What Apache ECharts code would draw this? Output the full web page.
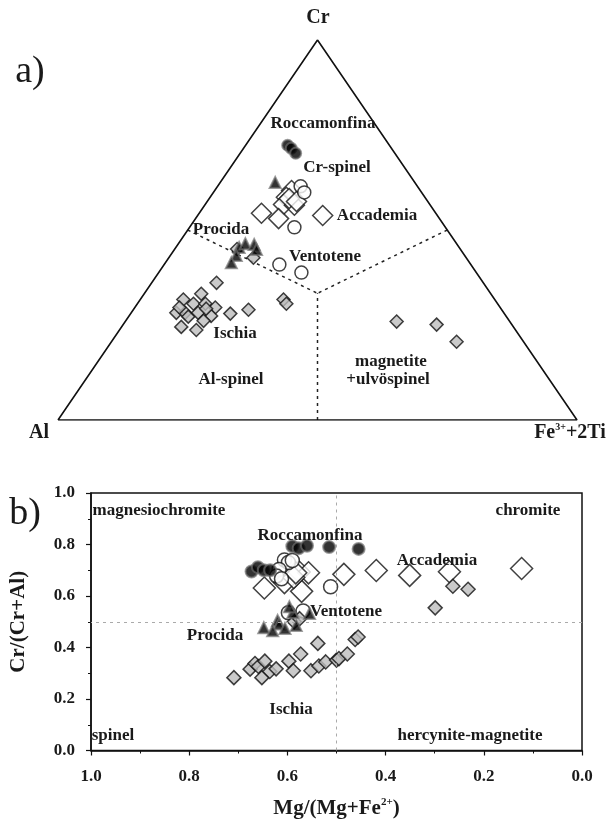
<!DOCTYPE html>
<html>
<head>
<meta charset="utf-8">
<script src="https://cdn.jsdelivr.net/npm/echarts@6/dist/echarts.min.js"></script>
<style>
html,body{margin:0;padding:0;background:#fff;}
#chart{width:614px;height:820px;}
</style>
</head>
<body>
<div id="chart"></div>
<script>
// ---------- Panel a: ternary Cr - Al - (Fe3+ + 2Ti), values as [Cr, Al, Fe3+2Ti] ----------
const ternaryVertices = [[0, 1, 0], [0, 0, 1], [1, 0, 0], [0, 1, 0]];
const fieldCentre = [1/3, 1/3, 1/3];
const fieldEdgeMids = [[0.5, 0.5, 0], [0.5, 0, 0.5], [0, 0.5, 0.5]];

const triRoccamonfina = [[0.723,0.196,0.081],[0.715,0.193,0.092],[0.702,0.191,0.107]];
const triAccademia = [[0.604,0.248,0.148],[0.586,0.267,0.147],[0.567,0.282,0.151],[0.565,0.262,0.173],
  [0.544,0.336,0.120],[0.530,0.310,0.160],[0.538,0.221,0.241],[0.583,0.263,0.154],[0.575,0.253,0.172]];
const triVentotene = [[0.615,0.225,0.160],[0.599,0.226,0.175],[0.507,0.291,0.202],[0.409,0.369,0.222],[0.388,0.337,0.275]];
const triProcida = [[0.625,0.269,0.106],[0.454,0.424,0.122],[0.464,0.407,0.129],[0.462,0.391,0.147],
  [0.449,0.393,0.158],[0.433,0.440,0.127],[0.414,0.459,0.127]];
const triIschia = [[0.450,0.430,0.120],[0.427,0.410,0.163],[0.361,0.514,0.125],[0.332,0.558,0.110],[0.317,0.600,0.083],
  [0.306,0.586,0.108],[0.306,0.563,0.131],[0.296,0.549,0.155],[0.282,0.631,0.087],[0.282,0.614,0.104],
  [0.272,0.613,0.115],[0.282,0.589,0.129],[0.274,0.568,0.158],[0.261,0.589,0.150],[0.245,0.640,0.115],
  [0.237,0.615,0.148],[0.280,0.528,0.192],[0.290,0.488,0.222],[0.317,0.407,0.276],[0.306,0.407,0.287],
  [0.296,0.618,0.086],[0.293,0.568,0.139],[0.259,0.218,0.523],[0.251,0.145,0.604],[0.206,0.129,0.665]];

// ---------- Panel b: Cr/(Cr+Al) vs Mg/(Mg+Fe2+) ----------
const binRoccamonfina = [[0.590,0.793],[0.577,0.785],[0.560,0.795],[0.515,0.790],[0.455,0.783],
  [0.673,0.695],[0.660,0.712],[0.648,0.700],[0.635,0.700]];
const binVentotene = [[0.606,0.740],[0.598,0.730],[0.590,0.738],[0.617,0.703],[0.622,0.678],
  [0.612,0.667],[0.512,0.636],[0.598,0.535],[0.568,0.542]];
const binAccademia = [[0.647,0.631],[0.576,0.693],[0.557,0.690],[0.571,0.618],[0.485,0.684],[0.419,0.699],
  [0.351,0.680],[0.270,0.694],[0.123,0.707],[0.606,0.652],[0.587,0.672],[0.583,0.690]];
const binIschia = [[0.709,0.283],[0.676,0.316],[0.666,0.338],[0.659,0.326],[0.646,0.347],[0.652,0.283],
  [0.636,0.307],[0.623,0.317],[0.597,0.347],[0.588,0.310],[0.573,0.375],[0.538,0.416],[0.552,0.310],
  [0.536,0.328],[0.522,0.344],[0.500,0.351],[0.495,0.357],[0.478,0.375],[0.462,0.431],[0.456,0.441],
  [0.263,0.638],[0.232,0.626],[0.299,0.554],[0.586,0.500],[0.575,0.512]];
const binProcida = [[0.648,0.477],[0.620,0.505],[0.617,0.491],[0.630,0.465],[0.605,0.474],
  [0.582,0.485],[0.589,0.536],[0.555,0.532],[0.596,0.558]];

const axisTicks = [0, 0.2, 0.4, 0.6, 0.8, 1.0];

// ternary [Cr, Al, Fe] -> plane coordinates (x = Fe + Cr/2, y = Cr)
function tern(p) { return [p[2] + p[0] / 2, p[0]]; }

const SERIF = '"Liberation Serif", "DejaVu Serif", serif';
const TXT = '#1a1a1a';

const chart = echarts.init(document.getElementById('chart'), null, {renderer: 'canvas'});

const symA = {
  rocca: {symbol: 'circle', symbolSize: 11, itemStyle: {color: '#000', borderColor: 'rgba(110,110,110,0.85)', borderWidth: 2}},
  procida: {symbol: 'triangle', symbolSize: 11, itemStyle: {color: '#000', borderColor: 'rgba(110,110,110,0.85)', borderWidth: 2}},
  vento: {symbol: 'circle', symbolSize: 13, itemStyle: {color: '#fff', borderColor: '#111', borderWidth: 1.5}},
  accad: {symbol: 'diamond', symbolSize: 20, itemStyle: {color: '#fff', borderColor: '#111', borderWidth: 1.5}},
  ischia: {symbol: 'diamond', symbolSize: 13, itemStyle: {color: '#bdbdbd', borderColor: '#111', borderWidth: 1.5}}
};

function scat(idx, data, sty, sizeAdd) {
  return Object.assign({type: 'scatter', xAxisIndex: idx, yAxisIndex: idx, data: data, silent: true,
    animation: false, z: 3}, sty, {symbolSize: sty.symbolSize + (sizeAdd || 0)});
}

const fieldLines = fieldEdgeMids.map(m => ({
  type: 'line', xAxisIndex: 0, yAxisIndex: 0, data: [tern(m), tern(fieldCentre)],
  symbol: 'none', silent: true, animation: false, z: 1,
  lineStyle: {color: '#222', width: 1.5, type: [3, 4]}
}));

function txt(x, y, s, font) {
  return {type: 'text', x: x, y: y, silent: true, z: 10,
    style: {text: s, font: font || ('bold 17px ' + SERIF), fill: TXT, align: 'center', verticalAlign: 'middle'}};
}

const supRich = {
  b: {fontFamily: SERIF, fontWeight: 'bold', fontSize: 21, color: TXT, lineHeight: 24},
  s: {fontFamily: SERIF, fontWeight: 'bold', fontSize: 11, color: TXT, verticalAlign: 'top', lineHeight: 14}
};

const option = {
  backgroundColor: '#fff',
  animation: false,
  grid: [
    {left: 58, top: 40, width: 519, height: 380, show: false},
    {left: 81, top: 493, width: 501, height: 269, show: true, borderColor: '#111', borderWidth: 1.5, backgroundColor: 'transparent'}
  ],
  xAxis: [
    {gridIndex: 0, type: 'value', min: 0, max: 1, show: false},
    {gridIndex: 1, type: 'value', min: 0, max: 1, interval: 0.2, inverse: true,
      name: '{b|Mg/(Mg+Fe}{s|2+}{b|)}', nameLocation: 'middle', nameGap: 46,
      nameTextStyle: {rich: supRich},
      axisLine: {show: true, onZero: false, lineStyle: {color: '#111', width: 1.5}},
      axisTick: {show: true, inside: false, length: 5, lineStyle: {color: '#111', width: 1.2}},
      minorTick: {show: true, splitNumber: 2, length: 3, lineStyle: {color: '#111', width: 1}},
      splitLine: {show: false},
      axisLabel: {margin: 18, fontFamily: SERIF, fontWeight: 'bold', fontSize: 17, color: TXT,
        formatter: v => axisTicks.some(t => Math.abs(t - v) < 1e-6) ? v.toFixed(1) : ''}}
  ],
  yAxis: [
    {gridIndex: 0, type: 'value', min: 0, max: 1, show: false},
    {gridIndex: 1, type: 'value', min: 0, max: 1, interval: 0.2, position: 'left',
      name: 'Cr/(Cr+Al)', nameLocation: 'middle', nameGap: 62, nameRotate: 90,
      nameTextStyle: {fontFamily: SERIF, fontWeight: 'bold', fontSize: 21, color: TXT},
      axisLine: {show: true, onZero: false, lineStyle: {color: '#111', width: 1.5}},
      axisTick: {show: true, inside: false, length: 5, lineStyle: {color: '#111', width: 1.2}},
      minorTick: {show: true, splitNumber: 2, length: 3, lineStyle: {color: '#111', width: 1}},
      splitLine: {show: false},
      axisLabel: {margin: 16, fontFamily: SERIF, fontWeight: 'bold', fontSize: 17, color: TXT,
        formatter: v => v.toFixed(1)}}
  ],
  series: [
    {type: 'line', xAxisIndex: 0, yAxisIndex: 0, data: ternaryVertices.map(tern), symbol: 'none',
      silent: true, animation: false, z: 2, lineStyle: {color: '#111', width: 1.6}},
    ...fieldLines,
    scat(0, triAccademia.map(tern), symA.accad),
    scat(0, triVentotene.map(tern), symA.vento),
    scat(0, triIschia.map(tern), symA.ischia),
    scat(0, triProcida.map(tern), symA.procida),
    scat(0, triRoccamonfina.map(tern), symA.rocca),
    {type: 'line', xAxisIndex: 1, yAxisIndex: 1, data: [], silent: true,
      markLine: {silent: true, symbol: 'none', label: {show: false}, animation: false,
        lineStyle: {color: '#aaa', width: 1, type: [3, 4]},
        data: [{xAxis: 0.5}, {yAxis: 0.5}]}},
    scat(1, binAccademia, symA.accad, 2),
    scat(1, binVentotene, symA.vento, 1),
    scat(1, binIschia, symA.ischia, 1),
    scat(1, binProcida, symA.procida, 0),
    scat(1, binRoccamonfina, symA.rocca, 1)
  ],
  graphic: [
    txt(30, 72, 'a)', '38px ' + SERIF),
    txt(318, 18, 'Cr', 'bold 20px ' + SERIF),
    txt(39, 433, 'Al', 'bold 20px ' + SERIF),
    {type: 'text', x: 570, y: 433, silent: true, z: 10,
      style: {text: '{b|Fe}{s|3+}{b|+2Ti}', align: 'center', verticalAlign: 'middle',
        rich: {b: {font: 'bold 20px ' + SERIF, fill: TXT, lineHeight: 22},
               s: {font: 'bold 10px ' + SERIF, fill: TXT, verticalAlign: 'top', lineHeight: 12}}}},
    txt(323, 124, 'Roccamonfina'),
    txt(337, 168, 'Cr-spinel'),
    txt(377, 216, 'Accademia'),
    txt(221, 230, 'Procida'),
    txt(325, 257, 'Ventotene'),
    txt(235, 334, 'Ischia'),
    txt(231, 380, 'Al-spinel'),
    txt(391, 362, 'magnetite'),
    txt(388, 380, '+ulvöspinel'),
    txt(25, 514, 'b)', '38px ' + SERIF),
    txt(159, 511, 'magnesiochromite'),
    txt(528, 511, 'chromite'),
    txt(310, 536, 'Roccamonfina'),
    txt(437, 561, 'Accademia'),
    txt(346, 612, 'Ventotene'),
    txt(215, 636, 'Procida'),
    txt(291, 710, 'Ischia'),
    txt(113, 736, 'spinel'),
    txt(470, 736, 'hercynite-magnetite')
  ]
};
chart.setOption(option);
</script>
</body>
</html>
